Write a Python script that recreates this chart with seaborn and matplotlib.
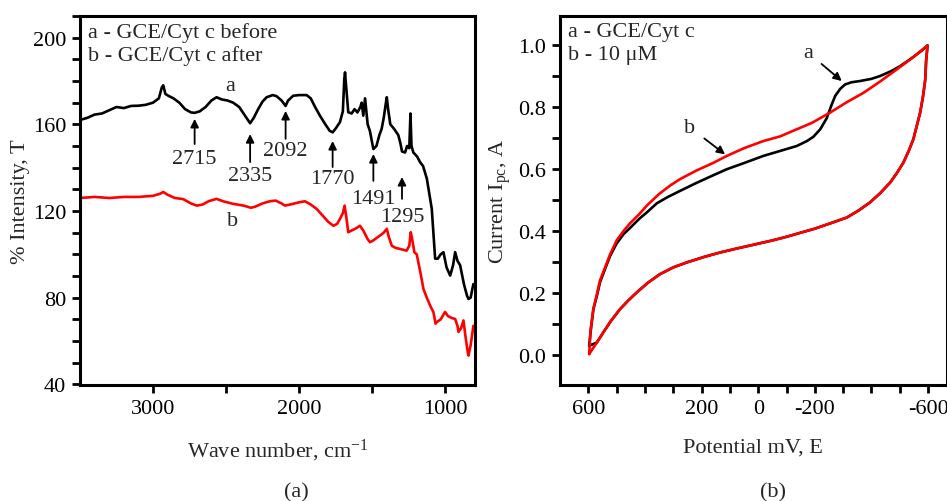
import matplotlib
matplotlib.use("Agg")
import matplotlib.pyplot as plt
import pandas as pd
import seaborn as sns
from matplotlib.ticker import FixedLocator, FixedFormatter, MultipleLocator

sns.set_style("ticks")
plt.rcParams["font.family"] = ["Liberation Serif", "DejaVu Serif"]
plt.rcParams["mathtext.fontset"] = "custom"
plt.rcParams["mathtext.rm"] = "Liberation Serif"
plt.rcParams["mathtext.it"] = "Liberation Serif:italic"

# ---------------- FTIR spectra (panel a) ----------------
wave_before = [3500, 3450, 3400, 3350, 3300, 3250, 3200, 3150, 3100, 3050, 3000,
               2960, 2940, 2930, 2915, 2890, 2860, 2820, 2780, 2740, 2715, 2680,
               2640, 2600, 2565, 2530, 2490, 2451, 2410, 2370, 2335, 2310, 2280,
               2250, 2222, 2180, 2154, 2120, 2092, 2075, 2040, 2000, 1948, 1920,
               1890, 1857, 1820, 1790, 1770, 1750, 1720, 1700, 1690, 1685, 1678,
               1663, 1640, 1620, 1600, 1580, 1571, 1560, 1548, 1530, 1515, 1491,
               1470, 1450, 1434, 1420, 1405, 1399, 1390, 1375, 1350, 1320, 1305,
               1295, 1274, 1260, 1245, 1237, 1230, 1217, 1190, 1171, 1151, 1125,
               1091, 1068, 1050, 1030, 1011, 990, 965, 945, 931, 915, 897, 870,
               850, 840, 825, 806]
trans_before = [162, 163, 164.5, 165, 166.5, 168, 167.5, 168.5, 168.6, 169, 170,
                172, 177, 178, 174, 173, 172, 170, 167, 165.5, 165.3, 166,
                168, 171, 172.5, 171.5, 171, 170, 168, 164, 160.5, 163, 167,
                170.5, 172.5, 173.5, 173, 171, 168.5, 171, 173.2, 173.5, 173.5, 172,
                168, 164, 160, 157, 156.3, 158, 161, 166, 181, 184, 178,
                165.6, 165, 167, 165.5, 168, 170, 164, 172, 160, 157, 148.6,
                150, 155, 158, 163, 170, 172.5, 167, 160, 158, 155, 151,
                147.5, 147, 150, 149, 165, 150, 147, 145, 142.5, 140.8, 135,
                121, 98, 98, 100, 101, 94, 90.2, 95, 101, 97, 95, 86,
                81, 79.4, 80, 86.3]

wave_after = [3500, 3400, 3300, 3200, 3100, 3000, 2950, 2930, 2900, 2850, 2794,
              2740, 2700, 2660, 2620, 2565, 2520, 2451, 2380, 2330, 2300, 2250,
              2200, 2160, 2120, 2097, 2060, 2000, 1960, 1920, 1880, 1840, 1800,
              1765, 1740, 1720, 1700, 1688, 1678, 1663, 1640, 1610, 1583, 1560,
              1530, 1514, 1490, 1470, 1445, 1420, 1399, 1385, 1365, 1340, 1309,
              1280, 1263, 1245, 1235, 1228, 1210, 1194, 1170, 1148, 1125, 1100,
              1080, 1065, 1057, 1030, 1000, 980, 950, 931, 915, 908, 890, 874,
              860, 845, 840, 825, 806]
trans_after = [126, 126.5, 126, 126.5, 126.5, 127, 128, 128.8, 127.5, 126, 125.5,
               123.5, 122.5, 123, 124.5, 125.6, 124.5, 123.3, 122.5, 121.5, 122, 123.5,
               124.5, 124.8, 123.5, 122.5, 123, 124, 124.5, 123, 121, 118, 115,
               113.2, 114, 116.3, 119, 122.5, 118, 110.2, 111, 112, 113.2, 111,
               107, 105.6, 106.5, 107.5, 108.7, 110, 111.8, 108, 104, 103, 102.5,
               102, 101.7, 104, 110.2, 108, 101, 100, 92, 84, 80, 76,
               73.4, 68, 68.7, 70, 73.4, 71.5, 70.5, 70.2, 67, 64.2, 66, 69.5,
               62, 55, 53.3, 58, 67]

peak_labels = [2715, 2335, 2092, 1770, 1491, 1295]
peak_arrow_tail = [150.9, 142.6, 153.3, 140.3, 133.9, 125.6]
peak_arrow_head = [162.5, 155.5, 166.2, 152.3, 146.3, 135.7]
peak_text_y = [144.3, 136.6, 147.7, 135.0, 125.8, 117.5]

# ---------------- Cyclic voltammograms (panel b) ----------------
# forward sweeps (600 -> -600 mV)
fwd_pot_a = [597, 590, 582, 570, 559, 540, 523, 500, 476, 453, 420, 394, 358,
             320, 276, 220, 160, 111, 50, -18, -77, -136, -172, -195, -219,
             -242, -260, -272, -290, -307, -330, -360, -400, -430, -470, -501,
             -530, -560, -580, -598]
fwd_cur_a = [0.03, 0.09, 0.148, 0.19, 0.234, 0.28, 0.32, 0.36, 0.39, 0.41,
             0.44, 0.46, 0.49, 0.51, 0.53, 0.555, 0.58, 0.60, 0.62, 0.643,
             0.659, 0.675, 0.691, 0.705, 0.729, 0.765, 0.81, 0.837, 0.86, 0.874,
             0.881, 0.885, 0.892, 0.901, 0.917, 0.933, 0.951, 0.971, 0.985, 1.0]

fwd_pot_b = [597, 592, 582, 570, 559, 540, 523, 500, 476, 453, 420, 394, 350,
             310, 276, 220, 160, 111, 50, -18, -77, -136, -190, -254, -310,
             -372, -430, -490, -545, -598]
fwd_cur_b = [0.003, 0.08, 0.15, 0.195, 0.24, 0.285, 0.325, 0.37, 0.40, 0.425,
             0.455, 0.482, 0.52, 0.548, 0.568, 0.595, 0.62, 0.643, 0.668, 0.691,
             0.706, 0.729, 0.75, 0.783, 0.815, 0.847, 0.883, 0.923, 0.96, 1.0]

# reverse sweeps (-600 -> 600 mV)
rev_pot = [-598, -593, -590, -582, -572, -560, -548, -532, -513, -490, -466,
           -430, -395, -355, -313, -254, -200, -150, -101, -50, 17, 80, 135,
           190, 252, 300, 347, 390, 429, 460, 488, 520, 547, 570]
rev_cur = [1.0, 0.95, 0.89, 0.835, 0.783, 0.74, 0.697, 0.66, 0.622, 0.588,
           0.557, 0.522, 0.493, 0.467, 0.444, 0.425, 0.408, 0.395, 0.382, 0.37,
           0.356, 0.343, 0.331, 0.317, 0.299, 0.283, 0.261, 0.233, 0.202,
           0.175, 0.148, 0.11, 0.073, 0.04]

cv_a = pd.DataFrame({"E": fwd_pot_a + rev_pot + [597],
                     "I": fwd_cur_a + rev_cur + [0.03]})
cv_b = pd.DataFrame({"E": fwd_pot_b + rev_pot + [597],
                     "I": fwd_cur_b + rev_cur + [0.003]})
ftir_a = pd.DataFrame({"wave": wave_before, "T": trans_before})
ftir_b = pd.DataFrame({"wave": wave_after, "T": trans_after})

FS = 16
LW = 1.9

fig = plt.figure(figsize=(9.47, 5.02), dpi=100)
ax1 = fig.add_axes([80 / 947, 116 / 502, 395 / 947, 369 / 502])
ax2 = fig.add_axes([560 / 947, 116 / 502, 386.5 / 947, 369 / 502])

# panel (a)
sns.lineplot(data=ftir_a, x="wave", y="T", ax=ax1, color="black", lw=LW,
             sort=False, estimator=None)
sns.lineplot(data=ftir_b, x="wave", y="T", ax=ax1, color="#ff0000", lw=LW,
             sort=False, estimator=None)
ax1.set_xlim(3500, 795)
ax1.set_ylim(39.7, 210)
ax1.xaxis.set_major_locator(FixedLocator([3000, 2500, 2000, 1500, 1000]))
ax1.xaxis.set_major_formatter(FixedFormatter(["3000", "", "2000", "", "1000"]))
ax1.yaxis.set_major_locator(MultipleLocator(10))
ax1.yaxis.set_major_formatter(
    plt.FuncFormatter(lambda v, p: f"{v:.0f}" if round(v) % 40 == 0 else ""))
ax1.set_xlabel(r"Wave number, cm$^{\mathrm{-1}}$", fontsize=FS, labelpad=14)
ax1.set_ylabel("% Intensity, T", fontsize=FS, labelpad=2)

for lab, t0, t1, ty in zip(peak_labels, peak_arrow_tail, peak_arrow_head, peak_text_y):
    ax1.annotate("", xy=(lab, t1), xytext=(lab, t0),
                 arrowprops=dict(arrowstyle="-|>", color="black", lw=1.3,
                                 mutation_scale=12, shrinkA=0, shrinkB=0))
    ax1.text(lab, ty, str(lab), ha="center", va="center", fontsize=FS)

ax1.text(2474, 177.7, "a", ha="center", va="center", fontsize=FS)
ax1.text(2454, 115.4, "b", ha="center", va="center", fontsize=FS)
ax1.text(0.02, 0.957, "a - GCE/Cyt c before", transform=ax1.transAxes,
         ha="left", va="center", fontsize=FS)
ax1.text(0.02, 0.895, "b - GCE/Cyt c after", transform=ax1.transAxes,
         ha="left", va="center", fontsize=FS)

# panel (b)
sns.lineplot(data=cv_a, x="E", y="I", ax=ax2, color="black", lw=LW,
             sort=False, estimator=None)
sns.lineplot(data=cv_b, x="E", y="I", ax=ax2, color="#ff0000", lw=LW,
             sort=False, estimator=None)
ax2.set_xlim(700, -665)
ax2.set_ylim(-0.097, 1.095)
xt = list(range(600, -700, -100))
ax2.xaxis.set_major_locator(FixedLocator(xt))
ax2.xaxis.set_major_formatter(FixedFormatter(
    [str(v) if v in (600, 200, 0, -200, -600) else "" for v in xt]))
ax2.yaxis.set_major_locator(MultipleLocator(0.1))
ax2.yaxis.set_major_formatter(
    plt.FuncFormatter(lambda v, p: f"{v:.1f}" if round(v * 10) % 2 == 0 else ""))
ax2.set_xlabel("Potential mV, E", fontsize=FS, labelpad=14)
ax2.set_ylabel(r"Current I$_{\mathrm{pc}}$, A", fontsize=FS, labelpad=4)

ax2.annotate("a", xy=(-295, 0.885), xytext=(-176, 0.977), fontsize=FS,
             ha="center", va="center",
             arrowprops=dict(arrowstyle="-|>", color="black", lw=1.3,
                             mutation_scale=12, shrinkA=5, shrinkB=0))
ax2.annotate("b", xy=(117, 0.648), xytext=(241, 0.735), fontsize=FS,
             ha="center", va="center",
             arrowprops=dict(arrowstyle="-|>", color="black", lw=1.3,
                             mutation_scale=12, shrinkA=5, shrinkB=0))
ax2.text(0.02, 0.957, "a - GCE/Cyt c", transform=ax2.transAxes,
         ha="left", va="center", fontsize=FS)
ax2.text(0.02, 0.897, "b - 10 μM", transform=ax2.transAxes,
         ha="left", va="center", fontsize=FS)

for ax in (ax1, ax2):
    for sp in ax.spines.values():
        sp.set_visible(True)
        sp.set_linewidth(2.2)
        sp.set_color("black")
    ax.tick_params(axis="both", which="major", direction="out", length=6,
                   width=2, labelsize=FS, colors="black", pad=4)
    ax.tick_params(top=False, right=False)

fig.text(296 / 947, 1 - 493 / 502, "(a)", ha="center", va="center", fontsize=FS)
fig.text(773 / 947, 1 - 493 / 502, "(b)", ha="center", va="center", fontsize=FS)

fig.savefig("out.png", dpi=100, facecolor="white")
